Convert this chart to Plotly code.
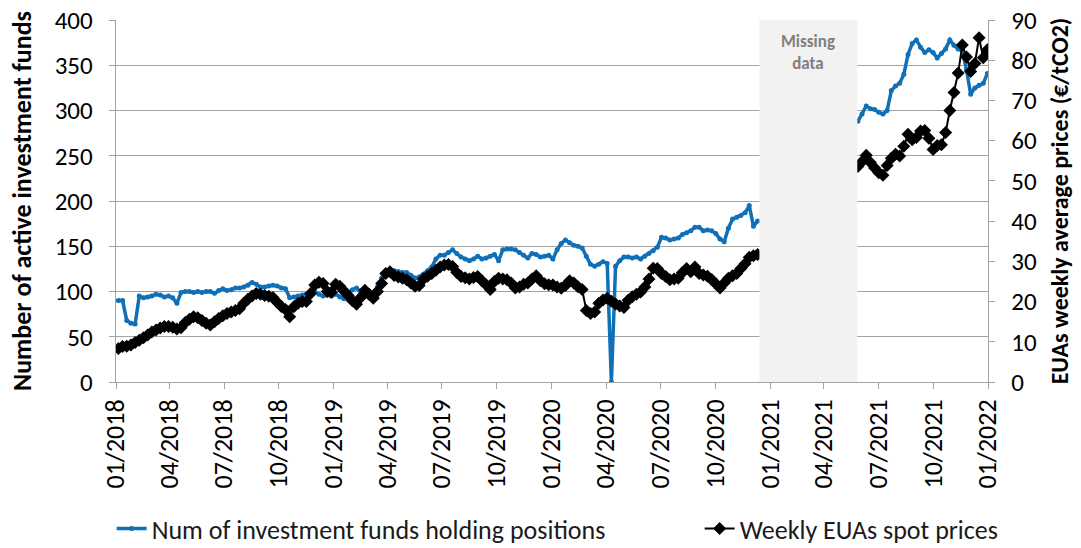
import pandas as pd
import plotly.graph_objects as go

# weekly observations, first block (Jan 2018 - Dec 2020)
start_a = '2018-01-05'
funds_a = [90, 90, 68, 65, 64, 95, 93, 94, 95, 97, 96, 94, 95, 93, 87, 99, 100, 100, 99, 100,
           99, 100, 100, 98, 101, 103, 101, 102, 104, 104, 105, 107, 110, 108, 105, 105, 106, 107, 106, 104,
           103, 93, 94, 95, 96, 97, 97, 100, 97, 95, 96, 95, 97, 94, 92, 97, 102, 104, 99, 95,
           96, 95, 105, 115, 123, 124, 123, 122, 121, 121, 118, 115, 116, 119, 123, 127, 136, 140, 140, 143,
           146, 142, 138, 136, 134, 136, 139, 136, 137, 139, 141, 134, 146, 147, 147, 146, 143, 140, 137, 142,
           141, 138, 139, 140, 136, 146, 153, 157, 154, 151, 150, 148, 139, 130, 128, 130, 133, 131, 0, 128,
           134, 138, 138, 137, 138, 136, 139, 142, 145, 149, 160, 159, 157, 158, 159, 163, 165, 167, 171, 171,
           167, 168, 167, 164, 158, 155, 170, 180, 182, 184, 187, 195, 172, 178]
prices_a = [8.3, 8.8, 8.9, 9.2, 9.8, 10.4, 11.0, 11.7, 12.4, 12.9, 13.4, 13.8, 13.8, 13.6, 13.2, 13.5, 14.8, 15.6, 16.2, 16.0,
            15.3, 14.6, 14.2, 15.0, 15.8, 16.5, 17.0, 17.4, 17.8, 18.2, 19.6, 20.6, 21.4, 22.0, 21.8, 21.5, 21.3, 21.0, 19.8, 18.8,
            18.0, 16.2, 18.7, 19.6, 20.0, 20.0, 22.0, 24.1, 24.8, 24.5, 22.5, 22.3, 24.3, 23.8, 22.6, 21.5, 20.2, 19.3, 21.0, 22.8,
            21.8, 20.8, 22.5, 24.5, 27.0, 27.4, 26.5, 26.1, 25.8, 25.4, 24.6, 23.8, 24.0, 25.6, 26.3, 27.0, 27.8, 28.6, 29.1, 29.2,
            28.7, 27.2, 26.2, 25.9, 25.6, 26.0, 26.2, 25.2, 24.2, 23.0, 25.0, 25.8, 25.6, 25.4, 24.6, 23.4, 23.6, 24.3, 24.6, 25.6,
            26.4, 25.2, 24.4, 24.2, 24.1, 23.6, 23.3, 24.0, 25.2, 24.6, 23.7, 23.0, 17.8, 17.0, 17.4, 19.6, 20.4, 20.8, 20.1, 19.4,
            18.9, 18.5, 20.3, 21.2, 21.8, 22.4, 23.6, 25.6, 28.3, 28.2, 27.0, 26.2, 25.4, 25.6, 25.8, 27.2, 28.2, 27.4, 28.6, 27.0,
            26.6, 26.3, 25.5, 24.4, 23.4, 24.6, 25.8, 26.4, 27.0, 28.2, 29.4, 31.0, 31.4, 31.7]

# second block (May 2021 - Dec 2021)
start_b = '2021-05-28'
funds_b = [288, 296, 305, 302, 301, 298, 296, 300, 322, 327, 330, 340, 362, 374, 378, 370,
           364, 367, 364, 358, 363, 368, 378, 372, 368, 366, 345, 318, 325, 328, 330, 341]
prices_b = [53.6, 54.8, 56.4, 54.6, 53.2, 52.0, 51.4, 53.8, 55.6, 56.6, 56.2, 58.6, 61.6, 60.2, 60.8, 62.4,
            62.5, 60.6, 57.8, 58.8, 59.0, 62.0, 67.5, 72.0, 76.8, 83.8, 80.8, 77.2, 79.2, 85.6, 80.6, 82.6]

missing_from = '2020-12-14'
missing_to = '2021-05-27'

dates_a = pd.date_range(start_a, periods=len(funds_a), freq='7D')
dates_b = pd.date_range(start_b, periods=len(funds_b), freq='7D')
# None between the blocks so the lines break over the gap
dates = list(dates_a) + [None] + list(dates_b)
funds = funds_a + [None] + funds_b
prices = prices_a + [None] + prices_b

FONT = 'Calibri, Carlito, Lato, sans-serif'
BLUE = '#0f70b7'
GRID = '#a3a3a3'
NB = '\u00a0'

fig = go.Figure()
fig.add_trace(go.Scatter(x=dates, y=funds, mode='lines+markers',
                         name='Num of investment funds holding positions',
                         line=dict(color=BLUE, width=3.5),
                         marker=dict(color=BLUE, size=5),
                         legendwidth=543,
                         connectgaps=False))
fig.add_trace(go.Scatter(x=dates, y=prices, mode='lines+markers',
                         name='Weekly EUAs spot prices', yaxis='y2',
                         line=dict(color='black', width=2),
                         marker=dict(color='black', symbol='diamond', size=10),
                         connectgaps=False))

fig.add_shape(type='rect', xref='x', yref='paper',
              x0=missing_from, x1=missing_to, y0=0, y1=1.0,
              fillcolor='#f2f2f2', line=dict(width=0), layer='above')

mid = pd.Timestamp(missing_from) + (pd.Timestamp(missing_to) - pd.Timestamp(missing_from)) / 2
fig.add_annotation(x=mid, y=0.975, xref='x', yref='paper', yanchor='top',
                   text='<b>Missing<br>data</b>', showarrow=False,
                   font=dict(family=FONT, size=17, color='#7f7f7f'))

fig.update_layout(
    width=1081, height=548,
    margin=dict(l=116, r=93, t=20, b=166, autoexpand=False),
    plot_bgcolor='white', paper_bgcolor='white',
    font=dict(family=FONT, color='black'),
    xaxis=dict(
        range=['2018-01-01', '2022-01-01'],
        tick0='2018-01-01', dtick='M3', tickformat='%m/%Y', tickangle=-90,
        ticks='outside', ticklen=6, tickcolor=GRID,
        showgrid=False, showline=True, linecolor=GRID,
        tickfont=dict(size=26, color='black'), automargin=False,
    ),
    yaxis=dict(
        range=[0, 400], dtick=50, ticksuffix=NB * 2, ticklabeloverflow='allow',
        showgrid=True, gridcolor=GRID, gridwidth=1,
        showline=True, linecolor=GRID, ticks='outside', ticklen=6, tickcolor=GRID,
        tickfont=dict(size=25, color='black'), zeroline=False, automargin=False,
        title=dict(text='<b>Number of active investment funds</b>', font=dict(size=26)),
    ),
    yaxis2=dict(
        range=[0, 90], dtick=10, overlaying='y', side='right',
        tickprefix=NB * 2, ticklabeloverflow='allow',
        showgrid=False, showline=True, linecolor=GRID, ticks='outside', ticklen=6, tickcolor=GRID,
        tickfont=dict(size=25, color='black'), zeroline=False, automargin=False,
        title=dict(text='<b>EUAs weekly average prices (€/tCO2)</b>', font=dict(size=24)),
    ),
    legend=dict(orientation='h', x=-0.005, xanchor='left', y=-0.405, yanchor='middle',
                font=dict(size=26, color='#1a1a1a')),
    showlegend=True,
)

# drop the default 8px page margin so the figure fills the window exactly
fig.write_html('out.html', config={'displayModeBar': False},
               post_script="document.body.style.margin='0px';")
